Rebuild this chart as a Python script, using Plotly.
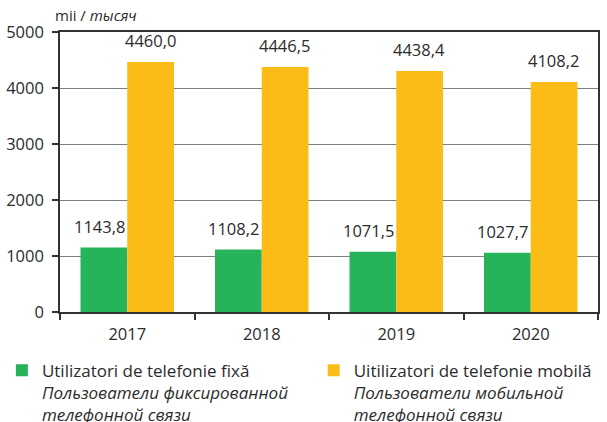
import plotly.graph_objects as go

years = ["2017", "2018", "2019", "2020"]
fixed_values = [1150, 1114, 1078, 1060]
mobile_values = [4465, 4376, 4305, 4109]
fixed_labels = ["1143,8", "1108,2", "1071,5", "1027,7"]
mobile_labels = ["4460,0", "4446,5", "4438,4", "4108,2"]
fixed_name = "Utilizatori de telefonie fixă<br><i>Пользователи фиксированной<br>телефонной связи</i>"
mobile_name = "Uitilizatori de telefonie mobilă<br><i>Пользователи мобильной<br>телефонной связи</i>"
y_ticks = [0, 1000, 2000, 3000, 4000, 5000]

GREEN = "#27B35A"
ORANGE = "#FBBC18"
TEXT = "#2b2b2b"
FONT = "Open Sans"

fig = go.Figure()
fig.add_trace(go.Bar(x=years, y=fixed_values, name=fixed_name, marker_color=GREEN,
                     marker_line_width=0, legend="legend"))
fig.add_trace(go.Bar(x=years, y=mobile_values, name=mobile_name, marker_color=ORANGE,
                     marker_line_width=0, legend="legend2"))

annotations = []
for i, (v, t) in enumerate(zip(fixed_values, fixed_labels)):
    annotations.append(dict(x=i, y=v, xref="x", yref="y", text=t, showarrow=False,
                            xshift=-28, yshift=8, yanchor="bottom",
                            font=dict(size=16.5, color=TEXT, family=FONT)))
for i, (v, t) in enumerate(zip(mobile_values, mobile_labels)):
    annotations.append(dict(x=i, y=v, xref="x", yref="y", text=t, showarrow=False,
                            xshift=23, yshift=8, yanchor="bottom",
                            font=dict(size=16.5, color=TEXT, family=FONT)))
annotations.append(dict(x=0, y=1, xref="paper", yref="paper", text="mii / <i>тысяч</i>",
                        showarrow=False, xanchor="center", yanchor="bottom", xshift=36, yshift=5,
                        font=dict(size=15, color=TEXT, family=FONT)))

legend_style = dict(orientation="h", yanchor="top", xanchor="left", valign="top",
                    font=dict(size=17, color=TEXT, family=FONT), bgcolor="rgba(0,0,0,0)")

fig.update_layout(
    width=607, height=422,
    margin=dict(l=60, r=9, t=32, b=110, autoexpand=False),
    paper_bgcolor="white", plot_bgcolor="white",
    barmode="group", bargap=0.305, bargroupgap=0,
    font=dict(family=FONT, size=16, color=TEXT),
    showlegend=True,
    legend=dict(x=-0.108, y=-0.145, **legend_style),
    legend2=dict(x=0.4716, y=-0.145, **legend_style),
    annotations=annotations,
    xaxis=dict(type="category", range=[-0.5, len(years) - 0.5], showline=True,
               linecolor="#333333", linewidth=1.5, automargin=False,
               mirror=True, ticks="outside", tickson="boundaries", ticklen=6,
               tickcolor="#333333", tickwidth=1.5, showgrid=False, tickangle=0,
               tickfont=dict(size=16.5, color=TEXT, family=FONT), ticklabelstandoff=6),
    yaxis=dict(range=[0, 5000], tickvals=y_ticks, showline=True, linecolor="#333333",
               linewidth=1.5, mirror=True, ticks="outside", ticklen=6, tickcolor="#333333",
               tickwidth=1.5, showgrid=True, gridcolor="#7f7f7f", gridwidth=1,
               zeroline=False, automargin=False, ticklabelstandoff=5,
               tickfont=dict(size=16.5, color=TEXT, family=FONT)),
)

fig.write_html("out.html", config={"displayModeBar": False},
               post_script="document.body.style.margin='0';document.body.style.overflow='hidden';")
